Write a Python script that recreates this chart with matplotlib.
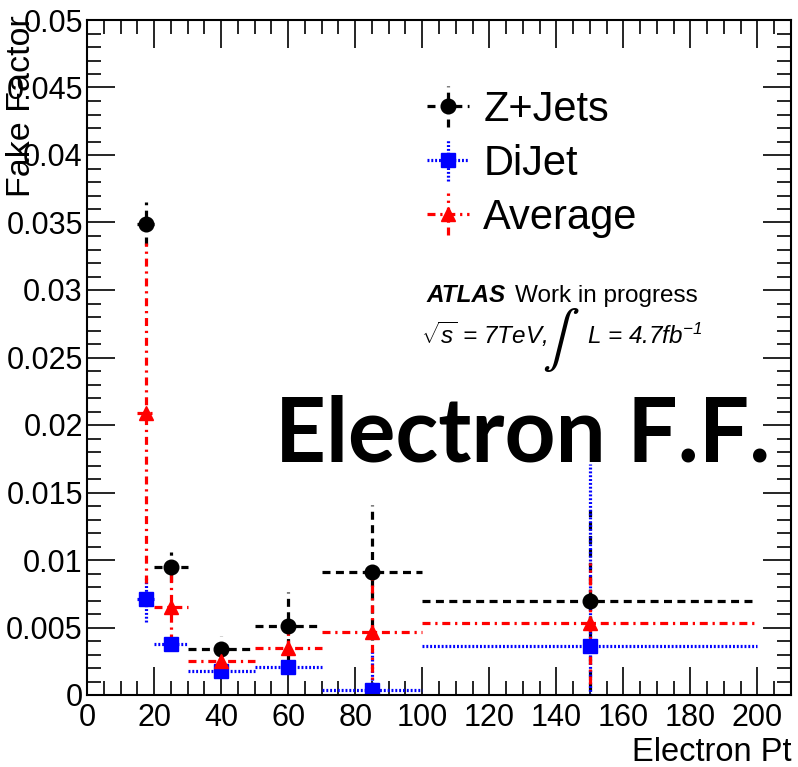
import matplotlib
matplotlib.use("Agg")
import matplotlib.pyplot as plt
from matplotlib.ticker import MultipleLocator

plt.rcParams['font.family'] = ['Liberation Sans', 'DejaVu Sans']
plt.rcParams['mathtext.fontset'] = 'custom'
plt.rcParams['mathtext.rm'] = 'Liberation Sans:italic'
plt.rcParams['mathtext.it'] = 'Liberation Sans:italic'

# bins in electron pt
pt_center = [17.5, 25, 40, 60, 85, 150]
pt_halfwidth = [2.5, 5, 10, 10, 15, 50]

zjets = [0.0349, 0.0095, 0.0034, 0.0051, 0.0091, 0.0070]
zjets_err = [0.0016, 0.0011, 0.0010, 0.0025, 0.0050, 0.0067]

dijet = [0.0071, 0.0038, 0.0018, 0.0021, 0.0004, 0.0036]
dijet_err = [0.0017, 0.0004, 0.0003, 0.0004, 0.0030, 0.0135]

average = [0.0209, 0.0065, 0.0025, 0.0035, 0.0047, 0.0053]
average_err = [0.0126, 0.0026, 0.0010, 0.0015, 0.0045, 0.0045]

W, H = 798, 767
fig = plt.figure(figsize=(W / 100, H / 100), dpi=100)
ax = fig.add_axes([87 / W, 1 - 695 / H, (791 - 87) / W, (695 - 20) / H])


def draw(y, yerr, color, marker, ls, label, ms):
    eb = ax.errorbar(pt_center, y, xerr=pt_halfwidth, yerr=yerr, fmt=marker,
                     color=color, ms=ms, elinewidth=2.3, capsize=0, label=label)
    for lc in eb[2]:
        lc.set_linestyle(ls)
    return eb


h1 = draw(zjets, zjets_err, 'black', 'o', (0, (2.5, 1.7)), 'Z+Jets', 10.5)
h2 = draw(dijet, dijet_err, '#0000ff', 's', (0, (0.6, 0.6)), 'DiJet', 9.5)
h3 = draw(average, average_err, '#ff0000', '^', (0, (2.5, 1.5, 0.7, 1.5)), 'Average', 10.5)

ax.set_xlim(0, 210)
ax.set_ylim(0, 0.05)
ax.xaxis.set_major_locator(MultipleLocator(20))
ax.xaxis.set_minor_locator(MultipleLocator(5))
ax.yaxis.set_major_locator(MultipleLocator(0.005))
ax.yaxis.set_minor_locator(MultipleLocator(0.001))
ax.yaxis.set_major_formatter(plt.FuncFormatter(lambda v, p: ('%g' % round(v, 4))))
ax.tick_params(which='both', direction='in', top=True, right=True, labelsize=22, width=1.2)
ax.tick_params(which='major', length=20)
ax.tick_params(which='minor', length=10)
ax.tick_params(axis='x', pad=6)
ax.tick_params(axis='y', pad=3)
for s in ax.spines.values():
    s.set_linewidth(1.5)

fig.text(30 / W, 1 - 15 / H, 'Fake Factor', rotation=90, rotation_mode='anchor',
         ha='right', va='baseline', fontsize=24.5)
fig.text(791 / W, 1 - 761 / H, 'Electron Pt', ha='right', va='baseline', fontsize=23.5)

leg = ax.legend(handles=[h1, h2, h3], loc='upper left',
                bbox_to_anchor=(425 / W, 1 - 90 / H), bbox_transform=fig.transFigure,
                frameon=False, fontsize=30, handlelength=1.1, handletextpad=0.3,
                labelspacing=0.33, borderpad=0, borderaxespad=0)

fig.text(427 / W, 1 - 302 / H, 'ATLAS', fontsize=17.5, fontweight='bold', style='italic')
fig.text(515 / W, 1 - 302 / H, 'Work in progress', fontsize=17.5)
fig.text(421 / W, 1 - 344 / H, r'$\sqrt{s}$ = 7TeV,', fontsize=17.5, style='italic')
fig.text(561 / W, 1 - 340 / H, r'$\int$', fontsize=40, math_fontfamily='stix',
         ha='center', va='center')
fig.text(587 / W, 1 - 344 / H, r'L = 4.7fb$^{-1}$', fontsize=17.5, style='italic')

fig.text(275 / W, 1 - 461 / H, 'Electron F.F.', fontsize=64, fontweight='bold',
         family=['Lato', 'DejaVu Sans'], va='baseline')

fig.savefig('out.png', dpi=100)
